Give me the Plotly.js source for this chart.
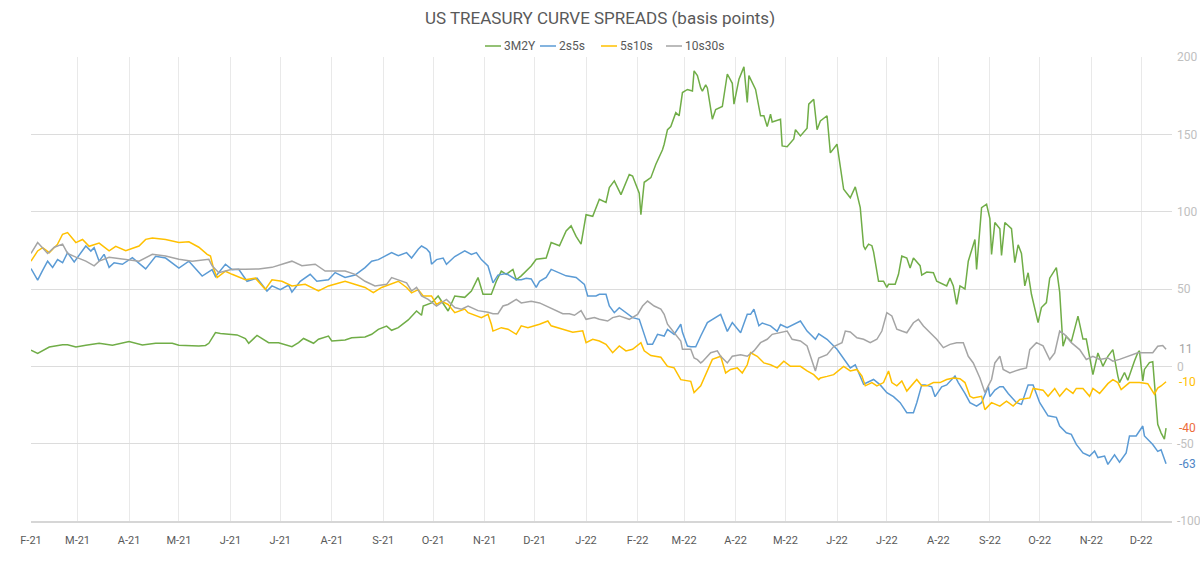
<!DOCTYPE html>
<html>
<head>
<meta charset="utf-8">
<script src="https://cdn.plot.ly/plotly-3.0.1.min.js"></script>
<style>
  html, body { margin: 0; padding: 0; background: #ffffff; }
  #chart { width: 1200px; height: 565px; }
</style>
</head>
<body>
<div id="chart"></div>
<script>
// US Treasury curve spreads, basis points (daily closes, Feb 2021 - Dec 2022)

const dates3m2y = ['2021-02-01','2021-02-05','2021-02-12','2021-02-20','2021-02-23','2021-02-28','2021-03-06','2021-03-14','2021-03-22','2021-04-01','2021-04-09','2021-04-17','2021-04-27','2021-05-01','2021-05-13','2021-05-17','2021-05-19','2021-05-23','2021-05-26','2021-05-31','2021-06-05','2021-06-10','2021-06-12','2021-06-17','2021-06-20','2021-06-24','2021-06-30','2021-07-08','2021-07-12','2021-07-15','2021-07-21','2021-07-24','2021-07-30','2021-08-01','2021-08-09','2021-08-13','2021-08-21','2021-08-25','2021-08-29','2021-09-03','2021-09-06','2021-09-10','2021-09-16','2021-09-21','2021-09-24','2021-09-25','2021-09-30','2021-10-04','2021-10-10','2021-10-14','2021-10-20','2021-10-24','2021-10-28','2021-10-31','2021-11-05','2021-11-08','2021-11-11','2021-11-14','2021-11-18','2021-11-20','2021-11-23','2021-11-29','2021-12-02','2021-12-08','2021-12-11','2021-12-16','2021-12-20','2021-12-23','2021-12-26','2021-12-29','2022-01-01','2022-01-05','2022-01-09','2022-01-13','2022-01-15','2022-01-18','2022-01-22','2022-01-27','2022-01-29','2022-02-02','2022-02-03','2022-02-05','2022-02-09','2022-02-12','2022-02-16','2022-02-17','2022-02-19','2022-02-21','2022-02-24','2022-02-26','2022-02-28','2022-03-03','2022-03-06','2022-03-07','2022-03-09','2022-03-11','2022-03-12','2022-03-14','2022-03-15','2022-03-18','2022-03-20','2022-03-24','2022-03-27','2022-03-30','2022-03-31','2022-04-03','2022-04-06','2022-04-08','2022-04-09','2022-04-13','2022-04-16','2022-04-18','2022-04-20','2022-04-22','2022-04-23','2022-04-28','2022-04-29','2022-05-02','2022-05-06','2022-05-07','2022-05-10','2022-05-14','2022-05-15','2022-05-18','2022-05-20','2022-05-22','2022-05-26','2022-05-28','2022-06-01','2022-06-05','2022-06-09','2022-06-12','2022-06-15','2022-06-17','2022-06-18','2022-06-20','2022-06-22','2022-06-23','2022-06-26','2022-06-29','2022-07-01','2022-07-02','2022-07-06','2022-07-08','2022-07-10','2022-07-13','2022-07-15','2022-07-17','2022-07-21','2022-07-22','2022-07-25','2022-07-29','2022-07-31','2022-08-06','2022-08-08','2022-08-10','2022-08-12','2022-08-14','2022-08-17','2022-08-19','2022-08-23','2022-08-24','2022-08-27','2022-08-30','2022-09-01','2022-09-02','2022-09-04','2022-09-07','2022-09-08','2022-09-10','2022-09-14','2022-09-16','2022-09-18','2022-09-20','2022-09-22','2022-09-24','2022-09-26','2022-09-30','2022-10-02','2022-10-05','2022-10-07','2022-10-11','2022-10-13','2022-10-14','2022-10-15','2022-10-17','2022-10-20','2022-10-24','2022-10-27','2022-10-29','2022-11-02','2022-11-05','2022-11-08','2022-11-11','2022-11-14','2022-11-17','2022-11-18','2022-11-21','2022-11-23','2022-11-27','2022-11-29','2022-11-30','2022-12-02','2022-12-03','2022-12-06','2022-12-08','2022-12-09','2022-12-11','2022-12-13','2022-12-15','2022-12-16'];
const vals3m2y = [10.5,8.4,12.5,14,14,12.5,13.6,14.9,13.6,16,13.8,14.9,14.9,13.6,13.2,13.5,14.9,21.8,21.3,21,20.3,17.9,14.9,20,18,15.3,15.3,12.7,15.3,18,14.9,17.5,19.6,16.4,17,18.5,19,20.7,23.9,26,23.3,25,30,35.8,33,39,41,45.5,35.8,45.5,44.6,48.7,57.4,46.6,46.6,55,61.6,59.5,62.7,56,58.5,64.9,69.2,70,80,78,87.5,90.8,84,79,98,97,108,106,115.6,119.9,111,124,123,112,98,119,122,130.7,140,143.6,153,155,164,162,177,179,178,191,188,180,178,182,180,159.8,166,168,189,183,169.5,185.6,193.6,170.6,188,179,162,162,155,163,158,159.8,142.5,142,147,153,149,154,169.5,172.7,153,158.7,162,138,143.6,114.5,109,116,102.6,77.8,75.7,79,78,74,55,55,51,53,53,59.5,71.3,70,63.6,70,65.1,59,61,60.5,55,52,57,52,40,52,50,68,82,62.7,102.6,104.8,95.5,72.4,93,89,71.7,93,89,67,78.6,73,52,60.5,46.6,28.3,38,41.2,57,63.8,48,32.5,13,19.3,16,32.5,17.6,17.6,-5.4,8.6,0,6.5,10.8,-6.3,-10.5,-4,-9,3.4,8.8,10,-9.5,-2,2.4,3,-12.7,-37.5,-43,-47,-40];

const dates2s5s = ['2021-02-01','2021-02-05','2021-02-08','2021-02-11','2021-02-14','2021-02-17','2021-02-20','2021-02-23','2021-02-27','2021-03-03','2021-03-06','2021-03-09','2021-03-11','2021-03-14','2021-03-17','2021-03-20','2021-03-23','2021-03-28','2021-04-03','2021-04-11','2021-04-17','2021-04-23','2021-05-01','2021-05-07','2021-05-15','2021-05-21','2021-05-23','2021-05-29','2021-06-02','2021-06-06','2021-06-11','2021-06-17','2021-06-23','2021-06-26','2021-07-01','2021-07-06','2021-07-08','2021-07-13','2021-07-19','2021-07-23','2021-07-30','2021-08-03','2021-08-09','2021-08-15','2021-08-21','2021-08-25','2021-08-29','2021-09-06','2021-09-10','2021-09-15','2021-09-18','2021-09-22','2021-09-24','2021-09-27','2021-09-29','2021-09-30','2021-10-03','2021-10-07','2021-10-09','2021-10-14','2021-10-20','2021-10-24','2021-10-27','2021-10-30','2021-11-03','2021-11-06','2021-11-09','2021-11-14','2021-11-17','2021-11-20','2021-11-23','2021-11-26','2021-11-29','2021-12-02','2021-12-04','2021-12-08','2021-12-11','2021-12-16','2021-12-20','2021-12-26','2021-12-29','2021-12-31','2022-01-02','2022-01-07','2022-01-09','2022-01-13','2022-01-15','2022-01-18','2022-01-21','2022-01-25','2022-01-29','2022-02-02','2022-02-07','2022-02-10','2022-02-13','2022-02-17','2022-02-19','2022-02-23','2022-02-27','2022-02-28','2022-03-03','2022-03-05','2022-03-08','2022-03-11','2022-03-15','2022-03-23','2022-03-26','2022-03-27','2022-03-30','2022-04-04','2022-04-08','2022-04-10','2022-04-12','2022-04-15','2022-04-17','2022-04-22','2022-04-26','2022-04-28','2022-05-02','2022-05-10','2022-05-14','2022-05-19','2022-05-21','2022-05-26','2022-06-01','2022-06-09','2022-06-12','2022-06-17','2022-06-23','2022-06-27','2022-07-01','2022-07-05','2022-07-09','2022-07-13','2022-07-17','2022-07-19','2022-07-22','2022-07-24','2022-07-28','2022-07-30','2022-08-03','2022-08-06','2022-08-11','2022-08-13','2022-08-17','2022-08-20','2022-08-24','2022-08-27','2022-08-31','2022-09-01','2022-09-04','2022-09-07','2022-09-09','2022-09-12','2022-09-17','2022-09-20','2022-09-24','2022-09-27','2022-10-01','2022-10-06','2022-10-11','2022-10-13','2022-10-17','2022-10-20','2022-10-23','2022-10-27','2022-10-31','2022-11-03','2022-11-05','2022-11-09','2022-11-11','2022-11-15','2022-11-18','2022-11-22','2022-11-24','2022-11-28','2022-12-02','2022-12-03','2022-12-08','2022-12-11','2022-12-13','2022-12-16'];
const vals2s5s = [63.2,55.8,62,68,64,69,67,73.5,67.5,73.5,77.8,74.5,76.7,68,72.4,64,67,66,70.3,63,71.2,70,63.5,68,58.4,62.5,58,66,62.5,62.8,55,57,48.7,52,49.6,52.5,48,55,59.5,55,56,60.6,57.5,59,63.8,68,69,73.5,71.5,73.5,70,75.7,77.8,76,73.5,66,69,70,66,71,74.6,72.4,73.5,69,64.9,54,59,60,58,56,56,57,56.5,51,55,57.5,62.7,60.5,58.5,57.5,55,53,45.5,45.5,46.6,46.6,39,34.7,37.9,34.7,31.5,30.4,14.2,14.2,20.7,19.6,23.9,20.7,27.2,22,13.1,12.6,12.6,19.6,28.3,33.6,25.2,22.6,28.3,21.7,33.6,33.6,36.9,26.2,28,26.2,22.6,27,25,29.3,22.8,17.5,21,17.5,11,-1,1,-11.6,-8.5,-12,-17,-19.6,-23.5,-30,-30,-23.5,-12,-12,-13.2,-19.6,-13.2,-12,-6.3,-10.5,-17.5,-23.5,-25.7,-23.5,-13.2,-19.6,-15.4,-13.2,-13.2,-17.5,-23.5,-24.6,-12,-12,-23.5,-32,-33,-38.6,-43,-44,-50.5,-56,-58,-54.8,-59,-58,-63.4,-57.2,-62,-56,-45,-45,-38.6,-45,-50.5,-55,-54,-63];

const dates5s10s = ['2021-02-01','2021-02-05','2021-02-08','2021-02-12','2021-02-17','2021-02-20','2021-02-23','2021-02-28','2021-03-04','2021-03-08','2021-03-14','2021-03-20','2021-03-24','2021-03-30','2021-04-07','2021-04-11','2021-04-15','2021-04-23','2021-05-01','2021-05-07','2021-05-13','2021-05-18','2021-05-20','2021-05-22','2021-05-24','2021-05-29','2021-06-02','2021-06-10','2021-06-16','2021-06-22','2021-06-26','2021-07-02','2021-07-08','2021-07-16','2021-07-24','2021-07-30','2021-08-09','2021-08-15','2021-08-21','2021-08-26','2021-08-31','2021-09-10','2021-09-15','2021-09-18','2021-09-22','2021-09-25','2021-09-30','2021-10-03','2021-10-06','2021-10-10','2021-10-14','2021-10-20','2021-10-22','2021-10-30','2021-11-03','2021-11-05','2021-11-06','2021-11-11','2021-11-15','2021-11-20','2021-11-23','2021-11-27','2021-12-04','2021-12-09','2021-12-11','2021-12-18','2021-12-24','2021-12-30','2022-01-01','2022-01-05','2022-01-09','2022-01-13','2022-01-17','2022-01-21','2022-01-25','2022-01-29','2022-02-03','2022-02-05','2022-02-09','2022-02-15','2022-02-19','2022-02-23','2022-02-27','2022-03-05','2022-03-07','2022-03-11','2022-03-15','2022-03-18','2022-03-23','2022-03-26','2022-03-29','2022-04-02','2022-04-05','2022-04-08','2022-04-10','2022-04-14','2022-04-18','2022-04-22','2022-04-26','2022-04-30','2022-05-04','2022-05-10','2022-05-14','2022-05-18','2022-05-21','2022-05-22','2022-05-26','2022-05-30','2022-06-05','2022-06-09','2022-06-13','2022-06-16','2022-06-18','2022-06-22','2022-06-25','2022-06-29','2022-07-02','2022-07-04','2022-07-07','2022-07-10','2022-07-13','2022-07-16','2022-07-19','2022-07-22','2022-07-25','2022-07-29','2022-08-02','2022-08-06','2022-08-10','2022-08-14','2022-08-17','2022-08-20','2022-08-22','2022-08-27','2022-08-29','2022-09-02','2022-09-07','2022-09-11','2022-09-15','2022-09-19','2022-09-25','2022-09-27','2022-10-03','2022-10-06','2022-10-10','2022-10-13','2022-10-17','2022-10-21','2022-10-23','2022-10-27','2022-10-31','2022-11-02','2022-11-06','2022-11-11','2022-11-14','2022-11-17','2022-11-19','2022-11-24','2022-11-30','2022-12-05','2022-12-08','2022-12-09','2022-12-11','2022-12-13','2022-12-16'];
const vals5s10s = [68,74.6,76.7,73.5,79,85.4,86.5,80,82,77.6,79.7,74.7,77.6,74.7,77.8,82.1,83,82,80,80.5,77,72.4,71.3,62.7,57.4,61.5,59.5,56,57,49.8,56,55,52,53,48.7,52,55,53,51,47.6,51,55,51,47.5,49.6,45.5,45.5,40,42,40,34.7,37,34.7,31.5,33.6,27.2,22.8,25,24,20.7,26.2,25,27.2,29.3,26.2,24,22,23,15.3,17.5,16.4,14.2,8.8,13.2,10,11,15.3,10,7,5.9,0,-1,-8.6,-9.7,-17,-12.6,-3.2,4.5,6.5,-4.3,-2,-1,-4.3,1,8.8,6.5,2.2,1,-1,3.3,0,0,-3,-5.4,-8.6,-7.5,-6.5,-5.4,0,-3,-2,-6.3,-12.6,-10.5,-12.6,-10.5,-3,-10.5,-12.6,-9.5,-16,-12.6,-8.5,-12.6,-12.6,-10.5,-10.5,-8.5,-7.5,-8,-10.5,-19.4,-20.5,-19.4,-28,-23.5,-25.7,-22.5,-25.7,-21.4,-20.4,-14.3,-15.4,-19.4,-14.3,-19.4,-14.3,-17.5,-14.3,-14.3,-19.4,-14.3,-17.5,-11.2,-8.6,-10.5,-15,-10.5,-10.5,-11.2,-16.8,-18,-14,-12.7,-10];

const dates10s30s = ['2021-02-01','2021-02-05','2021-02-11','2021-02-15','2021-02-20','2021-02-23','2021-02-28','2021-03-06','2021-03-11','2021-03-14','2021-03-20','2021-03-26','2021-04-07','2021-04-15','2021-04-23','2021-05-01','2021-05-09','2021-05-19','2021-05-21','2021-05-25','2021-06-02','2021-06-10','2021-06-18','2021-06-26','2021-07-02','2021-07-08','2021-07-14','2021-07-22','2021-07-28','2021-08-03','2021-08-09','2021-08-15','2021-08-21','2021-08-27','2021-09-03','2021-09-06','2021-09-10','2021-09-15','2021-09-18','2021-09-21','2021-09-24','2021-09-28','2021-10-03','2021-10-06','2021-10-09','2021-10-14','2021-10-18','2021-10-22','2021-10-28','2021-11-03','2021-11-06','2021-11-09','2021-11-12','2021-11-15','2021-11-20','2021-11-23','2021-11-29','2021-12-04','2021-12-08','2021-12-11','2021-12-14','2021-12-18','2021-12-22','2021-12-25','2021-12-29','2022-01-01','2022-01-06','2022-01-09','2022-01-14','2022-01-17','2022-01-21','2022-01-27','2022-02-01','2022-02-04','2022-02-07','2022-02-11','2022-02-15','2022-02-17','2022-02-19','2022-02-23','2022-02-27','2022-02-28','2022-03-05','2022-03-07','2022-03-09','2022-03-11','2022-03-12','2022-03-17','2022-03-21','2022-03-23','2022-03-27','2022-03-30','2022-04-04','2022-04-08','2022-04-12','2022-04-16','2022-04-20','2022-04-23','2022-04-28','2022-05-02','2022-05-05','2022-05-10','2022-05-14','2022-05-18','2022-05-19','2022-05-21','2022-05-26','2022-05-30','2022-06-02','2022-06-04','2022-06-06','2022-06-09','2022-06-13','2022-06-17','2022-06-21','2022-06-25','2022-06-28','2022-07-01','2022-07-04','2022-07-07','2022-07-10','2022-07-13','2022-07-17','2022-07-20','2022-07-23','2022-07-27','2022-07-31','2022-08-04','2022-08-08','2022-08-12','2022-08-16','2022-08-19','2022-08-22','2022-08-26','2022-08-29','2022-08-31','2022-09-02','2022-09-04','2022-09-07','2022-09-09','2022-09-13','2022-09-19','2022-09-23','2022-09-25','2022-09-29','2022-10-03','2022-10-07','2022-10-10','2022-10-13','2022-10-16','2022-10-20','2022-10-25','2022-10-29','2022-11-02','2022-11-06','2022-11-11','2022-11-14','2022-11-18','2022-11-24','2022-11-29','2022-12-05','2022-12-08','2022-12-11','2022-12-14','2022-12-16'];
const vals10s30s = [73,80,73,77,79,73,70.6,68,65,68,70.5,69.6,68,72.4,71.3,69.2,68,69.2,65,60.5,62.8,62.8,63,64,66,68,65,66,61.6,61.6,61.6,59.5,55,52,53,57.4,56,54,48.7,51,45.5,43.3,39,41,43.3,38,37,39,36,35,34,34,39,40,43.3,41,42,41,39,37.9,36,34,34,33,36,30.4,31.5,30.4,29.3,31.5,32.6,30.4,33.6,39,42.2,39,37,33.6,27.2,22,16.4,11,11,5.4,4.3,2.2,3,8.8,10,6.5,2.2,6.5,7.5,6.5,10,15.3,17.5,20.7,21.7,22.8,17.5,16.4,13.2,0,-3,5.4,7.5,12.8,14,15.3,22.8,22.2,18.5,17.5,15.3,17.5,22.8,34.7,32.6,24,22.8,21.7,28.2,30.4,26.1,21.7,17.5,12.1,14.2,15.3,15.3,6.5,2.2,-7.5,-17,-12.6,-8.5,2.2,6.5,-2,-4.3,-2,-1,10.8,15.3,13.2,4.4,8.6,22.8,20.5,15.3,10.8,4.4,6.5,4.4,5.4,3.3,4.5,6.7,8.8,8.8,8.8,13,13.5,11];

// Axis ticks: first day of each month, labelled with month initial and year
const monthTicks = ['2021-02-01','2021-03-01','2021-04-01','2021-05-01','2021-06-01','2021-07-01','2021-08-01','2021-09-01','2021-10-01','2021-11-01','2021-12-01','2022-01-01','2022-02-01','2022-03-01','2022-04-01','2022-05-01','2022-06-01','2022-07-01','2022-08-01','2022-09-01','2022-10-01','2022-11-01','2022-12-01'];
const monthLabels = ['F-21','M-21','A-21','M-21','J-21','J-21','A-21','S-21','O-21','N-21','D-21','J-22','F-22','M-22','A-22','M-22','J-22','J-22','A-22','S-22','O-22','N-22','D-22'];
const yTicks = [-100, -50, 0, 50, 100, 150, 200];
const yLabels = ['-100', '-50', '0', '50', '100', '150', '200'];

const FONT = 'Roboto, "Open Sans", sans-serif';

const W = 1200, H = 565;
const M = { l: 31, r: 28, t: 57, b: 44 };
const plotW = W - M.l - M.r;
const plotH = H - M.t - M.b;
// pixel position across the page -> paper fraction
const px = v => (v - M.l) / plotW;

const series = [
  { name: '3M2Y',   x: dates3m2y,   y: vals3m2y,   color: '#70ad47', label: '#ed6c3a', key: 485 },
  { name: '2s5s',   x: dates2s5s,   y: vals2s5s,   color: '#5b9bd5', label: '#4f86c6', key: 540 },
  { name: '5s10s',  x: dates5s10s,  y: vals5s10s,  color: '#ffc000', label: '#ffc000', key: 601 },
  { name: '10s30s', x: dates10s30s, y: vals10s30s, color: '#a5a5a5', label: '#a5a5a5', key: 666 }
];

const traces = series.map(s => ({
  type: 'scatter',
  mode: 'lines',
  name: s.name,
  x: s.x,
  y: s.y,
  line: { color: s.color, width: 1.5 },
  hoverinfo: 'skip'
}));

// Latest value of each spread, printed beside the right-hand axis
const lastValueNotes = series.map(s => {
  const last = s.y[s.y.length - 1];
  return {
    xref: 'paper', x: 1, xanchor: 'left', xshift: 5,
    yref: 'y', y: last, yanchor: 'middle',
    text: String(Math.round(last)),
    showarrow: false,
    font: { family: FONT, size: 12, color: s.label }
  };
});

// Compact legend row above the plot: short line key followed by the series name
const keyY = 1 + 11 / plotH;
const keyLines = series.map(s => ({
  type: 'line', xref: 'paper', yref: 'paper',
  x0: px(s.key), x1: px(s.key + 16), y0: keyY, y1: keyY,
  line: { color: s.color, width: 1.5 }
}));
const keyTexts = series.map(s => ({
  xref: 'paper', yref: 'paper', x: px(s.key + 17), y: keyY,
  xanchor: 'left', yanchor: 'middle',
  text: s.name, showarrow: false,
  font: { family: FONT, size: 12, color: '#595959' }
}));

const layout = {
  width: W,
  height: H,
  margin: { l: M.l, r: M.r, t: M.t, b: M.b, pad: 0, autoexpand: false },
  paper_bgcolor: '#ffffff',
  plot_bgcolor: '#ffffff',
  font: { family: FONT, color: '#595959' },
  title: {
    text: 'US TREASURY CURVE SPREADS (basis points)',
    font: { family: FONT, size: 17, color: '#595959' },
    x: 0.5, xanchor: 'center',
    yref: 'container', y: 1 - 18 / H, yanchor: 'middle'
  },
  showlegend: false,
  xaxis: {
    type: 'date',
    range: ['2021-02-01', '2022-12-19 14:00'],
    tickmode: 'array',
    tickvals: monthTicks,
    ticktext: monthLabels,
    tickangle: 0,
    ticks: '',
    ticklabelstandoff: 8,
    tickfont: { family: FONT, size: 11, color: '#595959' },
    showgrid: true,
    gridcolor: '#e9e9e9',
    gridwidth: 1,
    showline: true,
    linecolor: '#d6d6d6',
    linewidth: 1.5,
    zeroline: false,
    automargin: false,
    fixedrange: true
  },
  yaxis: {
    side: 'right',
    range: [-100, 200],
    tickmode: 'array',
    tickvals: yTicks,
    ticktext: yLabels,
    ticks: '',
    ticklabelstandoff: 4,
    tickfont: { family: FONT, size: 12, color: '#c0c0c0' },
    showgrid: true,
    gridcolor: '#dcdcdc',
    gridwidth: 1,
    zeroline: false,
    showline: false,
    automargin: false,
    fixedrange: true
  },
  shapes: keyLines,
  annotations: lastValueNotes.concat(keyTexts)
};

Plotly.newPlot('chart', traces, layout, { staticPlot: true, displayModeBar: false });
</script>
</body>
</html>
